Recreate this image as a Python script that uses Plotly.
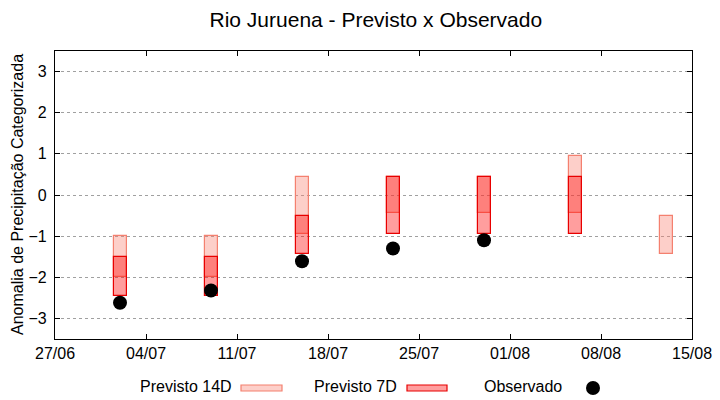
import plotly.graph_objects as go

# ---- data ----
dates = ["2023-07-02", "2023-07-09", "2023-07-16", "2023-07-23",
         "2023-07-30", "2023-08-06", "2023-08-13"]
p14_low = [-2.0, -2.0, -0.95, -0.44, -0.44, -0.44, -1.44]
p14_high = [-1.0, -1.0, 0.44, 0.44, 0.44, 0.96, -0.5]

dates7 = dates[:6]
p7_low = [-2.45, -2.45, -1.44, -0.95, -0.95, -0.95]
p7_high = [-1.5, -1.5, -0.5, 0.44, 0.44, 0.44]

dates_obs = dates[:5]
obs = [-2.62, -2.32, -1.61, -1.30, -1.10]

yticks = [-3, -2, -1, 0, 1, 2, 3]

DAY = 86400000
FONT = "Liberation Sans, Arial, sans-serif"

fig = go.Figure()
fig.add_trace(go.Bar(
    x=dates, y=[h - l for h, l in zip(p14_high, p14_low)], base=p14_low,
    width=DAY, name="Previsto 14D",
    marker=dict(color="rgba(250,128,114,0.38)",
                line=dict(color="#f4806f", width=1.2)),
    showlegend=False,
))
fig.add_trace(go.Bar(
    x=dates7, y=[h - l for h, l in zip(p7_high, p7_low)], base=p7_low,
    width=DAY, name="Previsto 7D",
    marker=dict(color="rgba(255,0,0,0.38)",
                line=dict(color="#e80000", width=1.2)),
    showlegend=False,
))
fig.add_trace(go.Scatter(
    x=dates_obs, y=obs, mode="markers", name="Observado",
    marker=dict(color="black", size=14, symbol="circle"),
    showlegend=False,
))

# plot area in pixels: x 55..692, y 51..339
L, R, T, B = 55, 692, 51, 339
W, H = R - L, B - T


def px(x):
    return (x - L) / W


def py(y):
    return (B - y) / H


fig.update_layout(
    width=720, height=400,
    margin=dict(l=L, r=720 - R, t=T, b=400 - B, autoexpand=False),
    paper_bgcolor="white", plot_bgcolor="white",
    barmode="overlay", bargap=0,
    font=dict(family=FONT, size=16, color="#000"),
    title=dict(text="Rio Juruena - Previsto x Observado", x=0.522, xanchor="center",
               y=1 - 20 / 400, yanchor="middle",
               font=dict(family=FONT, size=21, color="#000")),
    xaxis=dict(
        type="date", range=["2023-06-27", "2023-08-15"],
        tick0="2023-06-27", dtick=7 * DAY, tickformat="%d/%m",
        ticks="inside", ticklen=5, tickcolor="black", tickwidth=1,
        showline=True, linecolor="black", linewidth=1.2, mirror="ticks",
        showgrid=False, zeroline=False,
        tickfont=dict(family=FONT, size=16, color="#000"),
    ),
    yaxis=dict(
        range=[-3.5, 3.5], tickvals=yticks,
        ticks="inside", ticklen=5, tickcolor="black", tickwidth=1,
        showline=True, linecolor="black", linewidth=1.2, mirror="ticks",
        showgrid=True, gridcolor="#a0a0a0", gridwidth=1, griddash="dot",
        zeroline=False, ticklabelstandoff=4,
        tickfont=dict(family=FONT, size=16, color="#000"),
    ),
)

# y-axis title placed as rotated annotation
fig.add_annotation(text="Anomalia de Precipitação Categorizada", textangle=-90,
                   x=px(17), y=0.5, xref="paper", yref="paper",
                   xanchor="center", yanchor="middle", showarrow=False,
                   font=dict(family=FONT, size=16, color="#000"))

# ---- manual legend (gnuplot style, sample to the right of text) ----
ly = 386
fig.add_annotation(text="Previsto 14D", x=px(234), y=py(ly), xref="paper", yref="paper",
                   xanchor="right", yanchor="middle", showarrow=False,
                   font=dict(family=FONT, size=16, color="#000"))
fig.add_shape(type="rect", xref="paper", yref="paper",
              x0=px(241), x1=px(282), y0=py(391), y1=py(385),
              fillcolor="rgba(250,128,114,0.38)", line=dict(color="#f4806f", width=1.2))
fig.add_annotation(text="Previsto 7D", x=px(399), y=py(ly), xref="paper", yref="paper",
                   xanchor="right", yanchor="middle", showarrow=False,
                   font=dict(family=FONT, size=16, color="#000"))
fig.add_shape(type="rect", xref="paper", yref="paper",
              x0=px(407), x1=px(447), y0=py(391), y1=py(385),
              fillcolor="rgba(255,0,0,0.38)", line=dict(color="#e80000", width=1.2))
fig.add_annotation(text="Observado", x=px(564), y=py(ly), xref="paper", yref="paper",
                   xanchor="right", yanchor="middle", showarrow=False,
                   font=dict(family=FONT, size=16, color="#000"))
fig.add_shape(type="circle", xref="paper", yref="paper",
              xsizemode="pixel", ysizemode="pixel",
              xanchor=px(593), yanchor=py(388),
              x0=-7, x1=7, y0=-7, y1=7,
              fillcolor="black", line=dict(color="black", width=0))

fig.write_html("out.html",
               config={"displayModeBar": False},
               post_script="document.body.style.margin='0';document.body.style.overflow='hidden';")
